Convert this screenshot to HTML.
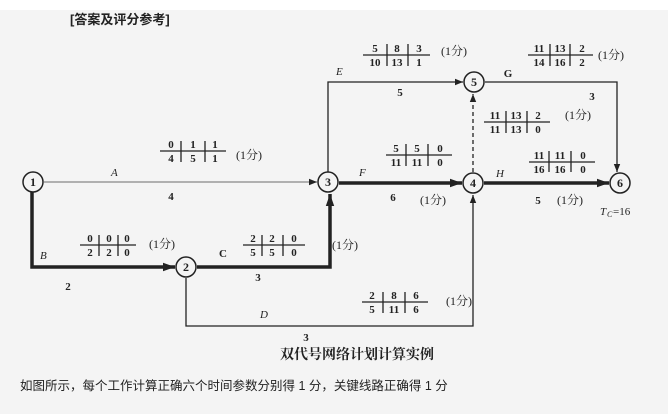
<!DOCTYPE html>
<html><head><meta charset="utf-8"><style>
html,body{margin:0;padding:0;background:#f4f4f4;}
svg{display:block}
text{font-family:"Liberation Serif","Noto Serif CJK SC",serif;fill:#222}
.t{font-size:11px;font-weight:bold;text-anchor:middle}
.s{font-family:"Liberation Sans","Noto Sans CJK SC",sans-serif;font-size:12px}
.i{font-style:italic;font-size:11px}
.n{font-size:12px;font-weight:bold}
</style></head><body>
<svg width="668" height="414" viewBox="0 0 668 414" xmlns="http://www.w3.org/2000/svg">
<defs>
<marker id="a" viewBox="0 0 10 10" refX="10" refY="5" markerWidth="8" markerHeight="8" markerUnits="userSpaceOnUse" orient="auto"><path d="M0,1 L10,5 L0,9z" fill="#222"/></marker>
<marker id="b" viewBox="0 0 10 10" refX="10" refY="5" markerWidth="12" markerHeight="12" markerUnits="userSpaceOnUse" orient="auto"><path d="M0,1.5 L10,5 L0,8.5z" fill="#222"/></marker>
</defs>
<rect x="0" y="0" width="668" height="10" fill="#fff"/>
<text x="70" y="24" class="s" style="font-size:13px;font-weight:bold">[答案及评分参考]</text>
<g stroke="#222" fill="none">
<line x1="44" y1="182" x2="317" y2="182" stroke="#888" stroke-width="1.2" marker-end="url(#a)"/>
<polyline points="32,192 32,267 175,267" stroke-width="3.5" marker-end="url(#b)"/>
<polyline points="197,267 330,267 330,194" stroke-width="3.5" marker-end="url(#b)"/>
<polyline points="186,278 186,326 473,326 473,195" stroke-width="1.3" marker-end="url(#a)"/>
<polyline points="328,172 328,82 463,82" stroke-width="1.3" marker-end="url(#a)"/>
<line x1="339" y1="183" x2="462" y2="183" stroke-width="3.5" marker-end="url(#b)"/>
<line x1="473" y1="172" x2="473" y2="94" stroke-width="1.3" stroke-dasharray="4,3" marker-end="url(#a)"/>
<line x1="484" y1="183" x2="609" y2="183" stroke-width="3.5" marker-end="url(#b)"/>
<polyline points="485,82 617,82 617,172" stroke-width="1.3" marker-end="url(#a)"/>
<g stroke-width="1.5" fill="#f4f4f4">
<circle cx="33" cy="182" r="10"/><circle cx="186" cy="267" r="10"/><circle cx="328" cy="182" r="10"/>
<circle cx="473" cy="183" r="10"/><circle cx="474" cy="82" r="10"/><circle cx="620" cy="183" r="10"/>
</g>
</g>
<g class="n" text-anchor="middle">
<text x="33" y="186">1</text><text x="186" y="271">2</text><text x="328" y="186">3</text>
<text x="473" y="187">4</text><text x="474" y="86">5</text><text x="620" y="187">6</text>
</g>
<!-- tables -->
<g stroke="#222" stroke-width="1.3" fill="none">
<path d="M160,151H226M181,141V162M205,141V162"/>
<path d="M80,245H136M99,235V256M118,235V256"/>
<path d="M243,245H305M262,235V256M283,235V256"/>
<path d="M362,302H428M383,292V313M405,292V313"/>
<path d="M363,55H430M387,44V66M408,44V66"/>
<path d="M386,155H452M406,144V166M428,144V166"/>
<path d="M484,122H550M506,111V133M527,111V133"/>
<path d="M528,55H593M550,44V66M570,44V66"/>
<path d="M529,162H595M549,151V172M571,151V172"/>
</g>
<g class="t">
<text x="171" y="148">0</text><text x="193" y="148">1</text><text x="215" y="148">1</text>
<text x="171" y="162">4</text><text x="193" y="162">5</text><text x="215" y="162">1</text>
<text x="90" y="242">0</text><text x="109" y="242">0</text><text x="127" y="242">0</text>
<text x="90" y="256">2</text><text x="109" y="256">2</text><text x="127" y="256">0</text>
<text x="253" y="242">2</text><text x="272" y="242">2</text><text x="294" y="242">0</text>
<text x="253" y="256">5</text><text x="272" y="256">5</text><text x="294" y="256">0</text>
<text x="372" y="299">2</text><text x="394" y="299">8</text><text x="416" y="299">6</text>
<text x="372" y="313">5</text><text x="394" y="313">11</text><text x="416" y="313">6</text>
<text x="375" y="52">5</text><text x="397" y="52">8</text><text x="419" y="52">3</text>
<text x="375" y="66">10</text><text x="397" y="66">13</text><text x="419" y="66">1</text>
<text x="396" y="152">5</text><text x="417" y="152">5</text><text x="440" y="152">0</text>
<text x="396" y="166">11</text><text x="417" y="166">11</text><text x="440" y="166">0</text>
<text x="495" y="119">11</text><text x="516" y="119">13</text><text x="538" y="119">2</text>
<text x="495" y="133">11</text><text x="516" y="133">13</text><text x="538" y="133">0</text>
<text x="539" y="52">11</text><text x="560" y="52">13</text><text x="582" y="52">2</text>
<text x="539" y="66">14</text><text x="560" y="66">16</text><text x="582" y="66">2</text>
<text x="539" y="159">11</text><text x="560" y="159">11</text><text x="583" y="159">0</text>
<text x="539" y="173">16</text><text x="560" y="173">16</text><text x="583" y="173">0</text>
</g>
<g class="s">
<text x="236" y="159">(1分)</text><text x="149" y="248">(1分)</text><text x="332" y="249">(1分)</text>
<text x="446" y="305">(1分)</text><text x="441" y="55">(1分)</text><text x="420" y="204">(1分)</text>
<text x="565" y="119">(1分)</text><text x="598" y="59">(1分)</text><text x="557" y="204">(1分)</text>
</g>
<g class="i">
<text x="111" y="176">A</text><text x="40" y="259">B</text><text x="260" y="318">D</text>
<text x="336" y="75">E</text><text x="359" y="176">F</text><text x="496" y="177">H</text>
<text x="600" y="215">T</text><text x="607" y="217" style="font-size:8px">C</text><text x="613" y="215" style="font-style:normal">=16</text>
</g>
<g class="t" style="font-weight:bold">
<text x="171" y="200">4</text><text x="68" y="290">2</text><text x="223" y="257">C</text><text x="258" y="281">3</text>
<text x="306" y="341">3</text><text x="400" y="96">5</text><text x="393" y="201">6</text>
<text x="508" y="77">G</text><text x="592" y="100">3</text><text x="538" y="204">5</text>
</g>
<text x="357" y="359" text-anchor="middle" style="font-family:'Liberation Serif','Noto Serif CJK SC',serif;font-size:14px;font-weight:bold">双代号网络计划计算实例</text>
<text x="20" y="390" style="font-family:'Liberation Sans','Noto Sans CJK SC',sans-serif;font-size:12.5px">如图所示，每个工作计算正确六个时间参数分别得 1 分，关键线路正确得 1 分</text>
</svg>
</body></html>
